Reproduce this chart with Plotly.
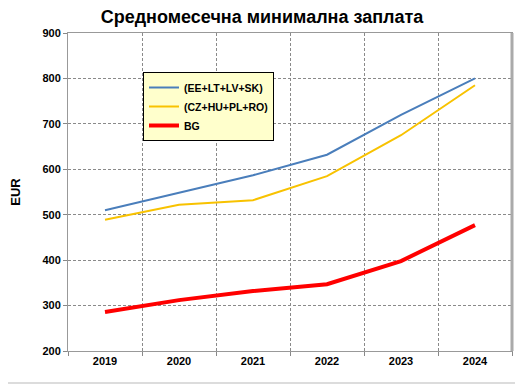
import plotly.graph_objects as go

years = ["2019", "2020", "2021", "2022", "2023", "2024"]
baltic_sk = [510, 548, 587, 632, 720, 800]
cz_hu_pl_ro = [489, 522, 532, 585, 675, 785]
bg = [286, 312, 332, 347, 398, 477]
y_ticks = [200, 300, 400, 500, 600, 700, 800, 900]

fig = go.Figure()
fig.add_trace(go.Scatter(x=years, y=baltic_sk, mode="lines", name="<b>(EE+LT+LV+SK)</b>",
                         line=dict(color="#4A7EBB", width=2)))
fig.add_trace(go.Scatter(x=years, y=cz_hu_pl_ro, mode="lines", name="<b>(CZ+HU+PL+RO)</b>",
                         line=dict(color="#F8C200", width=2)))
fig.add_trace(go.Scatter(x=years, y=bg, mode="lines", name="<b>BG</b>",
                         line=dict(color="#FF0000", width=4)))

# page body has an 8px default margin, so the figure is offset by 8px
OFF = 8
W, H = 523 - OFF, 384 - OFF
ml, mr, mt, mb = 68 - OFF, 11, 33 - OFF, 33
pw, ph = W - ml - mr, H - mt - mb

fig.update_layout(
    width=W, height=H,
    margin=dict(l=ml, r=mr, t=mt, b=mb, autoexpand=False),
    paper_bgcolor="white", plot_bgcolor="white",
    font=dict(family="Liberation Sans, Arial", color="black"),
    title=dict(text="<b>Средномесечна минимална заплата</b>", x=(262 - OFF) / W,
               xanchor="center", y=1, yanchor="top", pad=dict(t=2),
               font=dict(size=18), automargin=False),
    showlegend=True,
    legend=dict(x=(143 - 68) / pw, y=(384 - 33 - 72) / ph, xanchor="left", yanchor="top",
                bgcolor="#FFFFCC", bordercolor="black", borderwidth=1,
                font=dict(size=10.5), tracegroupgap=0, itemwidth=30),
    xaxis=dict(type="category", range=[-0.5, 5.5], tickson="boundaries", ticks="outside",
               ticklen=4, tickcolor="#888888", showgrid=True, gridcolor="#8a8a8a",
               griddash="3px,2px", gridwidth=1, showline=True, linecolor="#999999",
               linewidth=1, mirror=True, tickfont=dict(size=11), automargin=False,
               tickvals=years, ticktext=["<b>%s</b>" % y for y in years]),
    yaxis=dict(range=[200, 900], ticks="outside", ticklen=4, tickcolor="#888888",
               showgrid=True, gridcolor="#8a8a8a", griddash="3px,2px", gridwidth=1,
               showline=True, linecolor="#999999", linewidth=1, mirror=True,
               tickfont=dict(size=11), tickvals=y_ticks, automargin=False,
               ticktext=["<b>%d</b>" % v for v in y_ticks],
               title=dict(text="<b>EUR</b>", font=dict(size=13), standoff=20),
               zeroline=False),
)

# right border thicker grey
fig.add_shape(type="line", xref="paper", yref="paper", x0=1, x1=1, y0=0, y1=1,
              line=dict(color="#AAAAAA", width=3))
# outer frame (right and bottom edges visible)
fig.add_shape(type="line", xref="paper", yref="paper",
              x0=1 + (mr - 1) / pw, x1=1 + (mr - 1) / pw, y0=-(mb - 1) / ph, y1=1 + mt / ph,
              line=dict(color="#D0D0D0", width=1.5))
fig.add_shape(type="line", xref="paper", yref="paper",
              x0=-ml / pw, x1=1 + (mr - 1) / pw, y0=-(mb - 1) / ph, y1=-(mb - 1) / ph,
              line=dict(color="#D0D0D0", width=1.5))

fig.write_html("out.html")
